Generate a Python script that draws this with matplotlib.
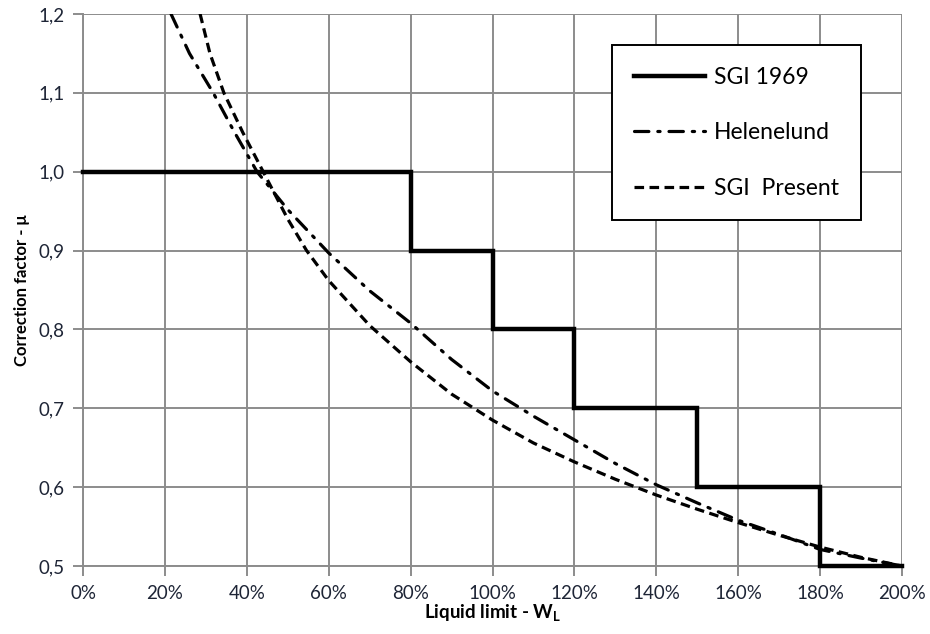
import matplotlib
matplotlib.use("Agg")
import matplotlib.pyplot as plt
from matplotlib.ticker import FixedLocator

# SGI 1969 step function (liquid limit %, factor)
sgi1969_x = [0, 80, 100, 120, 150, 180, 200]
sgi1969_y = [1.0, 0.9, 0.8, 0.7, 0.6, 0.5, 0.5]

# Helenelund
hel_x = [21.5, 26, 31.8, 37, 42.5, 50, 60, 70, 80, 90, 100, 110, 120, 130, 140, 150, 160, 170, 180, 190, 200]
hel_y = [1.20, 1.15, 1.10, 1.05, 1.00, 0.952, 0.897, 0.849, 0.808, 0.762, 0.722, 0.690, 0.660, 0.630, 0.603, 0.580, 0.558, 0.540, 0.521, 0.510, 0.500]

# SGI Present
pres_x = [27.5, 28.6, 31, 34.4, 39, 44, 50, 54.6, 60, 70, 80, 90, 100, 110, 120, 130, 140, 150, 160, 170, 180, 190, 200]
pres_y = [1.23, 1.20, 1.15, 1.10, 1.05, 1.00, 0.94, 0.90, 0.862, 0.805, 0.759, 0.718, 0.685, 0.656, 0.632, 0.610, 0.590, 0.572, 0.555, 0.539, 0.524, 0.511, 0.500]

x_ticks = [0, 20, 40, 60, 80, 100, 120, 140, 160, 180, 200]
x_labels = [f"{v}%" for v in x_ticks]
y_ticks = [0.5, 0.6, 0.7, 0.8, 0.9, 1.0, 1.1, 1.2]
y_labels = ["0,5", "0,6", "0,7", "0,8", "0,9", "1,0", "1,1", "1,2"]

plt.rcParams['font.family'] = ['Lato', 'DejaVu Sans']

fig = plt.figure(figsize=(9.3, 6.34), dpi=100)
ax = fig.add_axes([83/930, 1-566/634, (902-83)/930, (566-14)/634])

grid_c = '#8c8c8c'
ax.set_xlim(0, 200)
ax.set_ylim(0.5, 1.2)
ax.xaxis.set_major_locator(FixedLocator(x_ticks))
ax.yaxis.set_major_locator(FixedLocator(y_ticks))
ax.set_xticklabels(x_labels)
ax.set_yticklabels(y_labels)
ax.grid(True, color=grid_c, linewidth=1.4)
ax.set_axisbelow(True)
for s in ['top', 'right']:
    ax.spines[s].set_visible(False)
for s in ['left', 'bottom']:
    ax.spines[s].set_color(grid_c)
    ax.spines[s].set_linewidth(1.4)
ax.tick_params(axis='both', direction='out', length=7, width=1.4, color=grid_c,
               labelsize=13.5, labelcolor='#1e2536')
ax.tick_params(axis='x', pad=7)
ax.tick_params(axis='y', pad=6)

ax.plot(sgi1969_x, sgi1969_y, drawstyle='steps-post', color='black', linewidth=3.2,
        label='SGI 1969', solid_joinstyle='miter', clip_on=False, zorder=3)
l2, = ax.plot(hel_x, hel_y, color='black', linewidth=2.3, label='Helenelund', zorder=3)
l2.set_dashes([4.5, 2.8, 0.7, 2.8])
l2.set_dash_capstyle('round')
l3, = ax.plot(pres_x, pres_y, color='black', linewidth=2.3, label='SGI  Present', zorder=3)
l3.set_dashes([3.0, 1.7])

ax.set_xlabel('Liquid limit - W$_\\mathregular{L}$', fontsize=13.5, fontweight='bold', labelpad=0)
ax.set_ylabel('Correction factor - μ', fontsize=12, fontweight='bold', labelpad=6)

leg = ax.legend(loc='upper left', bbox_to_anchor=((612-83)/819, 1-(45-14)/552),
                fontsize=16.5, frameon=True, fancybox=False, edgecolor='black',
                framealpha=1, borderpad=0.95, labelspacing=1.5, handlelength=3.1,
                handletextpad=0.4, borderaxespad=0)
leg.get_frame().set_linewidth(1.4)

fig.savefig('out.png', dpi=100)
